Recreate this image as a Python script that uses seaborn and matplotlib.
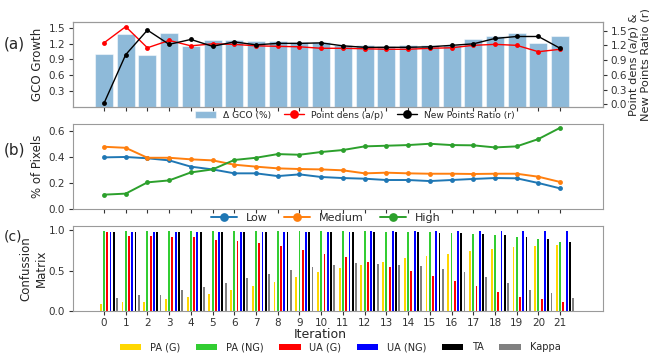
import matplotlib
matplotlib.use("Agg")
import matplotlib.pyplot as plt
import numpy as np
import pandas as pd
import seaborn as sns

sns.set_style("white", {"axes.edgecolor": "#9a9a9a",
                        "xtick.bottom": True, "ytick.left": True,
                        "xtick.color": "#333333", "ytick.color": "#333333"})
plt.rcParams['font.family'] = ['DejaVu Sans']

iterations = list(range(22))

# (a) GCO growth and point statistics
gco_growth = [1.00, 1.38, 0.99, 1.39, 1.15, 1.26, 1.27, 1.24, 1.24, 1.23, 1.22, 1.17,
              1.17, 1.16, 1.17, 1.17, 1.18, 1.29, 1.34, 1.40, 1.21, 1.34]
point_dens = [1.25, 1.58, 1.15, 1.30, 1.19, 1.23, 1.22, 1.19, 1.18, 1.17, 1.14, 1.14,
              1.13, 1.12, 1.12, 1.14, 1.15, 1.20, 1.22, 1.20, 1.07, 1.12]
new_points_ratio = [0.02, 1.01, 1.51, 1.22, 1.32, 1.18, 1.27, 1.21, 1.24, 1.24, 1.25, 1.19,
                    1.16, 1.16, 1.16, 1.17, 1.20, 1.23, 1.34, 1.38, 1.38, 1.14]

# (b) share of pixels per class
pix_low = [0.397, 0.400, 0.390, 0.374, 0.326, 0.305, 0.275, 0.275, 0.254, 0.267, 0.247, 0.239,
           0.234, 0.224, 0.224, 0.216, 0.224, 0.232, 0.239, 0.237, 0.201, 0.160]
pix_medium = [0.478, 0.470, 0.394, 0.394, 0.382, 0.374, 0.341, 0.326, 0.313, 0.308, 0.305, 0.298,
              0.275, 0.280, 0.275, 0.272, 0.272, 0.270, 0.272, 0.272, 0.249, 0.209]
pix_high = [0.112, 0.120, 0.206, 0.221, 0.282, 0.305, 0.377, 0.394, 0.422, 0.417, 0.438, 0.453,
            0.481, 0.486, 0.491, 0.501, 0.491, 0.489, 0.473, 0.481, 0.537, 0.623]

# (c) confusion matrix metrics
pa_g = [0.083, 0.11, 0.11, 0.145, 0.17, 0.21, 0.26, 0.31, 0.364, 0.426, 0.48, 0.533,
        0.574, 0.61, 0.653, 0.68, 0.71, 0.744, 0.773, 0.793, 0.81, 0.822]
pa_ng = [0.99, 0.99, 0.99, 0.99, 0.99, 0.99, 0.99, 0.99, 0.99, 0.99, 0.99, 0.99,
         0.99, 0.98, 0.98, 0.975, 0.967, 0.96, 0.946, 0.917, 0.897, 0.855]
ua_g = [0.975, 0.93, 0.925, 0.917, 0.92, 0.88, 0.87, 0.84, 0.80, 0.75, 0.707, 0.665,
        0.603, 0.55, 0.496, 0.434, 0.372, 0.306, 0.236, 0.17, 0.145, 0.112]
ua_ng = [0.975, 0.975, 0.975, 0.975, 0.975, 0.975, 0.975, 0.975, 0.975, 0.975, 0.975, 0.98,
         0.99, 0.99, 0.99, 0.99, 0.99, 0.99, 0.99, 0.99, 0.99, 0.99]
ta = [0.975, 0.975, 0.975, 0.975, 0.975, 0.975, 0.975, 0.975, 0.975, 0.975, 0.975, 0.975,
      0.975, 0.975, 0.975, 0.967, 0.967, 0.96, 0.938, 0.913, 0.893, 0.855]
kappa = [0.157, 0.20, 0.194, 0.256, 0.293, 0.343, 0.405, 0.455, 0.504, 0.545, 0.57, 0.595,
         0.587, 0.574, 0.558, 0.52, 0.483, 0.42, 0.347, 0.264, 0.223, 0.165]

metric_names = ["PA (G)", "PA (NG)", "UA (G)", "UA (NG)", "TA", "Kappa"]
metric_colors = ["#ffd700", "#32cd32", "#ff0000", "#0000ff", "#000000", "#808080"]

fig = plt.figure(figsize=(6.49, 3.53), dpi=100)
left, width = 0.112, 0.817
ax_a = fig.add_axes([left, 0.696, width, 0.241])
ax_b = fig.add_axes([left, 0.407, width, 0.241])
ax_c = fig.add_axes([left, 0.119, width, 0.240])
xlim = (-1.44, 22.97)
tick_fs = 7.5

# ---- panel (a)
sns.barplot(x=iterations, y=gco_growth, ax=ax_a, color="#1f77b4", alpha=0.5,
            saturation=1, width=0.83, edgecolor="white", linewidth=0.8,
            label="\u0394 GCO (%)")
ax_a.set_ylim(0, 1.6)
ax_a.set_yticks([0.3, 0.6, 0.9, 1.2, 1.5])
ax_a.set_ylabel("GCO Growth", fontsize=8.5, labelpad=3)
ax_a.set_xticks(iterations)
ax_a.set_xticklabels([])
ax_a2 = ax_a.twinx()
sns.lineplot(x=iterations, y=point_dens, ax=ax_a2, color="red", marker="o",
             markersize=3.5, markeredgewidth=0, linewidth=1, label="Point dens (a/p)")
sns.lineplot(x=iterations, y=new_points_ratio, ax=ax_a2, color="black", marker="o",
             markersize=3.5, markeredgewidth=0, linewidth=1, label="New Points Ratio (r)")
ax_a2.set_ylim(-0.061, 1.67)
ax_a2.set_yticks([0.0, 0.3, 0.6, 0.9, 1.2, 1.5])
ax_a2.tick_params(axis="y", right=True, labelsize=tick_fs, length=3, color="#333333",
                  pad=2.5)
ax_a2.set_ylabel("Point dens (a/p) &\nNew Points Ratio (r)", fontsize=8.2, labelpad=1)
ax_a2.set_xlim(*xlim)
ax_a.set_xlim(*xlim)
ha, la = ax_a.get_legend_handles_labels()
hb, lb = ax_a2.get_legend_handles_labels()
if ax_a.get_legend() is not None:
    ax_a.get_legend().remove()
ax_a2.get_legend().remove()
fig.legend(ha + hb, la + lb, loc="center", bbox_to_anchor=(0.547, 0.674), ncol=3,
           frameon=False, fontsize=6.6, markerscale=1.8, handlelength=2.2,
           columnspacing=1.4, handletextpad=0.8, borderpad=0)

# ---- panel (b)
pix = pd.DataFrame({"Iteration": iterations * 3,
                    "share": pix_low + pix_medium + pix_high,
                    "cls": ["Low"] * 22 + ["Medium"] * 22 + ["High"] * 22})
sns.lineplot(data=pix, x="Iteration", y="share", hue="cls", ax=ax_b,
             palette=["#1f77b4", "#ff7f0e", "#2ca02c"], marker="o", markersize=3.5,
             markeredgewidth=0, linewidth=1.4)
ax_b.set_ylim(0, 0.65)
ax_b.set_yticks([0.0, 0.2, 0.4, 0.6])
ax_b.set_xlim(*xlim)
ax_b.set_xticks(iterations)
ax_b.set_xticklabels([])
ax_b.set_xlabel("")
ax_b.set_ylabel("% of Pixels", fontsize=8.5, labelpad=3)
hl, ll = ax_b.get_legend_handles_labels()
ax_b.get_legend().remove()
fig.legend(hl, ll, loc="center", bbox_to_anchor=(0.502, 0.382), ncol=3,
           frameon=False, fontsize=8, markerscale=1.8, handlelength=2.3,
           columnspacing=1.5, handletextpad=0.8, borderpad=0)

# ---- panel (c)
metrics = [pa_g, pa_ng, ua_g, ua_ng, ta, kappa]
step, bar_w = 0.15, 0.085
x = np.array(iterations, dtype=float)
for k, (vals, name, col) in enumerate(zip(metrics, metric_names, metric_colors)):
    ax_c.bar(x + (k - 1) * step, vals, width=bar_w, color=col, label=name, linewidth=0)
ax_c.set_ylim(0, 1.05)
ax_c.set_yticks([0.0, 0.5, 1.0])
ax_c.set_xlim(*xlim)
ax_c.set_xticks(iterations)
ax_c.set_xticklabels([str(i) for i in iterations])
ax_c.set_xlabel("Iteration", fontsize=9)
ax_c.set_ylabel("Confussion\nMatrix", fontsize=8.5)
ax_c.yaxis.set_label_coords(-0.047, 0.5)
hc, lc = ax_c.get_legend_handles_labels()
fig.legend(hc, lc, loc="center", bbox_to_anchor=(0.524, 0.016), ncol=6,
           frameon=False, fontsize=7, handlelength=2.2, handleheight=0.6,
           columnspacing=1.6, handletextpad=0.9, borderpad=0)

for ax in (ax_a, ax_b, ax_c):
    ax.tick_params(axis="both", labelsize=tick_fs, length=3, color="#333333")
    ax.tick_params(axis="y", pad=2.5)
    for s in ax.spines.values():
        s.set_color("#9a9a9a")
for s in ax_a2.spines.values():
    s.set_color("#9a9a9a")
ax_c.tick_params(axis="x", pad=2)
ax_c.xaxis.set_label_coords(0.467, -0.205)

fig.text(0.006, 0.875, "(a)", fontsize=11, va="center")
fig.text(0.006, 0.575, "(b)", fontsize=11, va="center")
fig.text(0.006, 0.330, "(c)", fontsize=10, va="center")

fig.savefig("out.png", dpi=100)
